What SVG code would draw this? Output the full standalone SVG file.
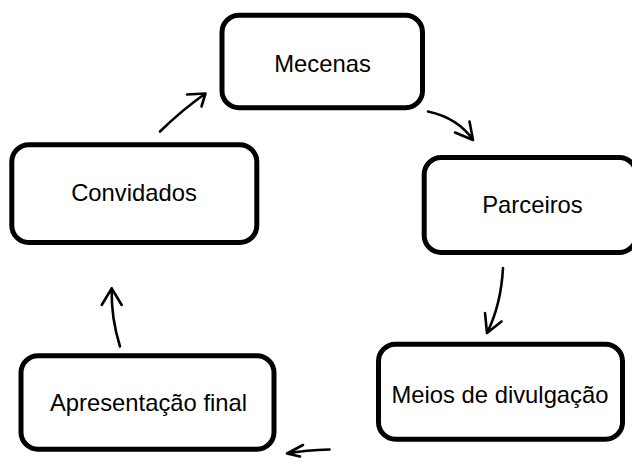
<svg xmlns="http://www.w3.org/2000/svg" width="632" height="461" viewBox="0 0 632 461">
<style>
.box{fill:#fff;stroke:#000;stroke-width:5}
.lbl{font-family:"Liberation Sans",Arial,sans-serif;font-size:23.8px;fill:#000;text-anchor:middle}
.arr{fill:none;stroke:#000;stroke-width:2.6;stroke-linecap:round;stroke-linejoin:round}
</style>
<rect width="632" height="461" fill="#fff"/>
<g id="mecenas">
<rect class="box" x="222" y="15.3" width="200.5" height="92.4" rx="17"/>
<text class="lbl" x="322.5" y="71.5">Mecenas</text>
</g>
<g id="parceiros">
<rect class="box" x="424.2" y="157.5" width="212" height="95" rx="17"/>
<text class="lbl" x="532.5" y="213.3">Parceiros</text>
</g>
<g id="meios">
<rect class="box" x="378.5" y="344.2" width="244" height="95" rx="17"/>
<text class="lbl" x="500" y="402.5">Meios de divulgação</text>
</g>
<g id="apresentacao">
<rect class="box" x="21" y="355.8" width="253" height="93.4" rx="17"/>
<text class="lbl" x="148.5" y="411">Apresentação final</text>
</g>
<g id="convidados">
<rect class="box" x="11.8" y="144.8" width="245" height="97.7" rx="17"/>
<text class="lbl" x="134" y="201">Convidados</text>
</g>
<g id="connectors">
<path class="arr" d="M160,131.5 Q182,110 205.5,93.5 M187,94.5 L205.5,93.5 L201.5,106.5"/>
<path class="arr" d="M428,111.5 Q458,118 473,140 M469.5,121.5 L473,140 L455,132.5"/>
<path class="arr" d="M503,268 Q501,305 487,333 M485,313 L487,333 L501.5,321.5"/>
<path class="arr" d="M329.5,449.5 Q306,450 287,453.5 M303,445 L287,453.5 L300,456.5"/>
<path class="arr" d="M120,346.5 Q111,318 111.7,288.3 M101.7,305 L111.7,288.3 L121.7,305"/>
</g>
</svg>
